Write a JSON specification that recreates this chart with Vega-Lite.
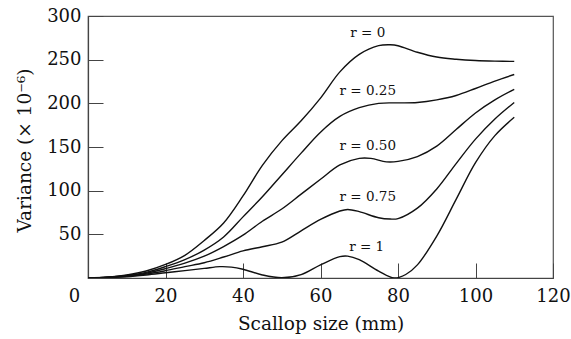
{
  "$schema": "https://vega.github.io/schema/vega-lite/v6.json",
  "width": 465,
  "height": 262,
  "autosize": "none",
  "padding": {"left": 88, "top": 16, "right": 18, "bottom": 61},
  "background": "white",
  "config": {"view": {"stroke": "#555", "strokeWidth": 1.2}, "font": "DejaVu Serif"},
  "datasets": {
    "curves": [
      {"r": "0", "x": 0, "v": 0}, {"r": "0", "x": 5, "v": 1}, {"r": "0", "x": 10, "v": 3.5}, {"r": "0", "x": 15, "v": 8}, {"r": "0", "x": 20, "v": 15.5}, {"r": "0", "x": 25, "v": 26}, {"r": "0", "x": 30, "v": 43}, {"r": "0", "x": 35, "v": 63}, {"r": "0", "x": 40, "v": 94}, {"r": "0", "x": 45, "v": 129}, {"r": "0", "x": 50, "v": 157}, {"r": "0", "x": 55, "v": 180}, {"r": "0", "x": 60, "v": 206}, {"r": "0", "x": 65, "v": 236}, {"r": "0", "x": 70, "v": 256}, {"r": "0", "x": 75, "v": 266}, {"r": "0", "x": 78, "v": 267}, {"r": "0", "x": 80, "v": 266}, {"r": "0", "x": 85, "v": 258.5}, {"r": "0", "x": 90, "v": 253}, {"r": "0", "x": 95, "v": 250.5}, {"r": "0", "x": 100, "v": 249}, {"r": "0", "x": 105, "v": 248.3}, {"r": "0", "x": 110, "v": 248},
      {"r": "0.25", "x": 0, "v": 0}, {"r": "0.25", "x": 5, "v": 0.9}, {"r": "0.25", "x": 10, "v": 3}, {"r": "0.25", "x": 15, "v": 6.5}, {"r": "0.25", "x": 20, "v": 13}, {"r": "0.25", "x": 25, "v": 21}, {"r": "0.25", "x": 30, "v": 32}, {"r": "0.25", "x": 35, "v": 47}, {"r": "0.25", "x": 40, "v": 70}, {"r": "0.25", "x": 45, "v": 93}, {"r": "0.25", "x": 50, "v": 118}, {"r": "0.25", "x": 55, "v": 143}, {"r": "0.25", "x": 60, "v": 167}, {"r": "0.25", "x": 65, "v": 185}, {"r": "0.25", "x": 70, "v": 195}, {"r": "0.25", "x": 75, "v": 200}, {"r": "0.25", "x": 80, "v": 200.5}, {"r": "0.25", "x": 85, "v": 201}, {"r": "0.25", "x": 90, "v": 204}, {"r": "0.25", "x": 95, "v": 209}, {"r": "0.25", "x": 100, "v": 217}, {"r": "0.25", "x": 105, "v": 225.5}, {"r": "0.25", "x": 110, "v": 233},
      {"r": "0.50", "x": 0, "v": 0}, {"r": "0.50", "x": 5, "v": 0.8}, {"r": "0.50", "x": 10, "v": 2.5}, {"r": "0.50", "x": 15, "v": 5.5}, {"r": "0.50", "x": 20, "v": 10.7}, {"r": "0.50", "x": 25, "v": 17}, {"r": "0.50", "x": 30, "v": 25}, {"r": "0.50", "x": 35, "v": 36}, {"r": "0.50", "x": 40, "v": 49}, {"r": "0.50", "x": 45, "v": 65}, {"r": "0.50", "x": 50, "v": 79}, {"r": "0.50", "x": 55, "v": 96}, {"r": "0.50", "x": 60, "v": 113}, {"r": "0.50", "x": 65, "v": 129.5}, {"r": "0.50", "x": 70, "v": 137}, {"r": "0.50", "x": 73, "v": 137}, {"r": "0.50", "x": 77, "v": 133}, {"r": "0.50", "x": 80, "v": 133.5}, {"r": "0.50", "x": 85, "v": 139}, {"r": "0.50", "x": 90, "v": 151}, {"r": "0.50", "x": 95, "v": 170}, {"r": "0.50", "x": 100, "v": 189}, {"r": "0.50", "x": 105, "v": 204}, {"r": "0.50", "x": 110, "v": 216},
      {"r": "0.75", "x": 0, "v": 0}, {"r": "0.75", "x": 5, "v": 0.6}, {"r": "0.75", "x": 10, "v": 2}, {"r": "0.75", "x": 15, "v": 4.5}, {"r": "0.75", "x": 20, "v": 8.4}, {"r": "0.75", "x": 25, "v": 13}, {"r": "0.75", "x": 30, "v": 17.5}, {"r": "0.75", "x": 35, "v": 24}, {"r": "0.75", "x": 40, "v": 31}, {"r": "0.75", "x": 45, "v": 35.8}, {"r": "0.75", "x": 50, "v": 41}, {"r": "0.75", "x": 55, "v": 54}, {"r": "0.75", "x": 60, "v": 67}, {"r": "0.75", "x": 65, "v": 76.7}, {"r": "0.75", "x": 67, "v": 78.5}, {"r": "0.75", "x": 70, "v": 76}, {"r": "0.75", "x": 75, "v": 69}, {"r": "0.75", "x": 78, "v": 67.5}, {"r": "0.75", "x": 80, "v": 68}, {"r": "0.75", "x": 85, "v": 80}, {"r": "0.75", "x": 90, "v": 102}, {"r": "0.75", "x": 95, "v": 131}, {"r": "0.75", "x": 100, "v": 159}, {"r": "0.75", "x": 105, "v": 182}, {"r": "0.75", "x": 110, "v": 201},
      {"r": "1", "x": 0, "v": 0}, {"r": "1", "x": 5, "v": 0.5}, {"r": "1", "x": 10, "v": 1.5}, {"r": "1", "x": 15, "v": 3.5}, {"r": "1", "x": 20, "v": 6}, {"r": "1", "x": 25, "v": 8.5}, {"r": "1", "x": 30, "v": 11}, {"r": "1", "x": 34, "v": 13}, {"r": "1", "x": 37, "v": 12.5}, {"r": "1", "x": 40, "v": 10}, {"r": "1", "x": 45, "v": 3.5}, {"r": "1", "x": 50, "v": 0.3}, {"r": "1", "x": 55, "v": 3.8}, {"r": "1", "x": 60, "v": 15}, {"r": "1", "x": 65, "v": 24.4}, {"r": "1", "x": 67, "v": 25}, {"r": "1", "x": 70, "v": 21}, {"r": "1", "x": 75, "v": 8}, {"r": "1", "x": 79, "v": 0}, {"r": "1", "x": 82, "v": 4}, {"r": "1", "x": 85, "v": 15}, {"r": "1", "x": 90, "v": 48}, {"r": "1", "x": 95, "v": 90}, {"r": "1", "x": 100, "v": 132}, {"r": "1", "x": 105, "v": 163}, {"r": "1", "x": 110, "v": 184}
    ],
    "labels": [
      {"label": "r = 0", "x": 72.2, "v": 280.5},
      {"label": "r = 0.25", "x": 72.2, "v": 214},
      {"label": "r = 0.50", "x": 72.2, "v": 151.7},
      {"label": "r = 0.75", "x": 72.2, "v": 92.3},
      {"label": "r = 1", "x": 71.9, "v": 35.6}
    ]
  },
  "encoding": {
    "x": {
      "field": "x", "type": "quantitative",
      "scale": {"domain": [0, 120], "nice": false, "zero": false},
      "axis": {
        "values": [0, 20, 40, 60, 80, 100, 120],
        "title": "Scallop size (mm)",
        "grid": false,
        "tickSize": -15,
        "labelPadding": 24,
        "labelFlush": false,
        "labelOffset": {"condition": {"test": "datum.value == 0", "value": -14}, "value": 0},
        "labelFont": "DejaVu Serif", "labelFontSize": 18, "labelColor": "#111",
        "titleFont": "DejaVu Serif", "titleFontSize": 18.5, "titleFontWeight": "normal", "titleColor": "#111",
        "titlePadding": 9,
        "domainColor": "#444", "tickColor": "#444", "domainWidth": 1.2, "tickWidth": 1
      }
    },
    "y": {
      "field": "v", "type": "quantitative",
      "scale": {"domain": [0, 300], "nice": false},
      "axis": {
        "values": [0, 50, 100, 150, 200, 250, 300],
        "labelExpr": "datum.value == 0 ? '' : datum.label",
        "title": "Variance (× 10⁻⁶)",
        "grid": false,
        "tickSize": -15,
        "labelPadding": 22,
        "labelFont": "DejaVu Serif", "labelFontSize": 18, "labelColor": "#111",
        "titleFont": "DejaVu Serif", "titleFontSize": 18.5, "titleFontWeight": "normal", "titleColor": "#111",
        "titlePadding": 12,
        "titleY": 134,
        "domainColor": "#444", "tickColor": "#444", "domainWidth": 1.2, "tickWidth": 1
      }
    }
  },
  "layer": [
    {
      "data": {"name": "curves"},
      "mark": {"type": "line", "interpolate": "catmull-rom", "color": "#111", "strokeWidth": 1.4, "clip": true},
      "encoding": {"detail": {"field": "r"}}
    },
    {
      "data": {"name": "labels"},
      "mark": {"type": "text", "font": "DejaVu Serif", "fontSize": 13.5, "color": "#111", "align": "center", "baseline": "middle"},
      "encoding": {"text": {"field": "label"}}
    }
  ]
}
